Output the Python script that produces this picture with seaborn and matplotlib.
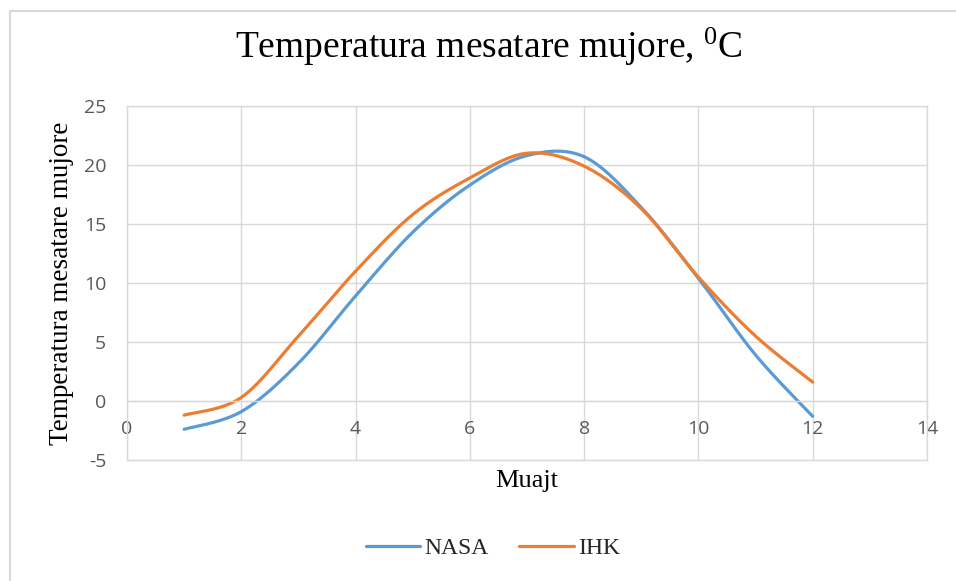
import numpy as np
import pandas as pd
import matplotlib
matplotlib.use("Agg")
import matplotlib.pyplot as plt
import seaborn as sns
from matplotlib.patches import Rectangle
from matplotlib.lines import Line2D

# ---- data ----
months = [1, 2, 3, 4, 5, 6, 7, 8, 9, 10, 11, 12]
nasa = [-2.4, -0.9, 3.2, 8.9, 14.3, 18.3, 20.8, 20.7, 16.4, 10.4, 3.9, -1.3]
ihk = [-1.2, 0.3, 5.5, 11.0, 15.8, 18.9, 21.0, 19.9, 16.3, 10.5, 5.5, 1.6]
series_names = ["NASA", "IHK"]
x_ticks = [0, 2, 4, 6, 8, 10, 12, 14]
y_ticks = [-5, 0, 5, 10, 15, 20, 25]
title = "Temperatura mesatare mujore, $^{0}$C"
y_label = "Temperatura mesatare mujore"
x_label = "Muajt"

colors = {"NASA": "#5B9BD5", "IHK": "#ED7D31"}


def smooth(xs, ys, n=40):
    """Excel-style smoothed line (Catmull-Rom Bezier) through the points."""
    P = np.column_stack([xs, ys]).astype(float)
    out = []
    m = len(P)
    t = np.linspace(0, 1, n)[:, None]
    for i in range(m - 1):
        p0 = P[i - 1] if i > 0 else P[i]
        p1 = P[i]
        p2 = P[i + 1]
        p3 = P[i + 2] if i + 2 < m else P[i + 1]
        c1 = p1 + (p2 - p0) / 6.0
        c2 = p2 - (p3 - p1) / 6.0
        seg = ((1 - t) ** 3) * p1 + 3 * ((1 - t) ** 2) * t * c1 + 3 * (1 - t) * t ** 2 * c2 + t ** 3 * p2
        out.append(seg if i == 0 else seg[1:])
    out = np.vstack(out)
    return out[:, 0], out[:, 1]


frames = []
for name, vals in zip(series_names, [nasa, ihk]):
    sx, sy = smooth(months, vals)
    frames.append(pd.DataFrame({"x": sx, "y": sy, "series": name}))
df = pd.concat(frames, ignore_index=True)

sns.set_theme(style="white")
plt.rcParams["mathtext.fontset"] = "custom"
plt.rcParams["mathtext.rm"] = "Liberation Serif"
plt.rcParams["mathtext.default"] = "rm"
plt.rcParams["axes.unicode_minus"] = False

W, H = 956, 581
fig = plt.figure(figsize=(W / 100, H / 100), dpi=100)
fig.patch.set_facecolor("white")
L, R, T, B = 127, 927, 106, 460
ax = fig.add_axes([L / W, 1 - B / H, (R - L) / W, (B - T) / H])

sns.lineplot(data=df, x="x", y="y", hue="series", palette=colors, sort=False,
             estimator=None, linewidth=2.3, ax=ax, legend=False)

ax.set_xlim(0, 14)
ax.set_ylim(-5, 25)
ax.set_xticks(x_ticks)
ax.set_yticks(y_ticks)
ax.grid(True, color="#D9D9D9", linewidth=1.0)
ax.set_axisbelow(True)
for s in ax.spines.values():
    s.set_color("#D9D9D9")
    s.set_linewidth(1.0)
ax.spines["bottom"].set_position(("data", 0))
ax.axhline(y_ticks[0], color="#D9D9D9", linewidth=1.0, clip_on=False, zorder=0.5)
ax.tick_params(axis="both", length=0, labelsize=14, labelcolor="#595959")
ax.tick_params(axis="x", pad=14)
ax.tick_params(axis="y", pad=15)
for lab in ax.get_xticklabels() + ax.get_yticklabels():
    lab.set_fontfamily("Open Sans")
ax.set_xlabel("")
ax.set_ylabel("")

fig.text(489 / W, 1 - 58 / H, title, ha="center", va="baseline",
         fontsize=27, family="Liberation Serif", color="black")
fig.text(62 / W, 1 - 283 / H, y_label, rotation=90, ha="center", va="center",
         fontsize=19.5, family="Liberation Serif", color="black")
fig.text(527 / W, 1 - 481 / H, x_label, ha="center", va="center",
         fontsize=19, family="Liberation Serif", color="black")

handles = [Line2D([], [], color=colors[n], linewidth=2.3) for n in series_names]
fig.legend(handles, series_names, loc="center", bbox_to_anchor=(493 / W, 1 - 548 / H),
           ncol=2, frameon=False, prop={"family": "Liberation Serif", "size": 17},
           handlelength=2.3, handletextpad=0.2, columnspacing=1.3)

fig.add_artist(Rectangle((9.5 / W, -0.1), 2, 1 - 10.5 / H + 0.1, transform=fig.transFigure,
                         fill=False, edgecolor="#D9D9D9", linewidth=1.5))

fig.savefig("out.png", dpi=100)
